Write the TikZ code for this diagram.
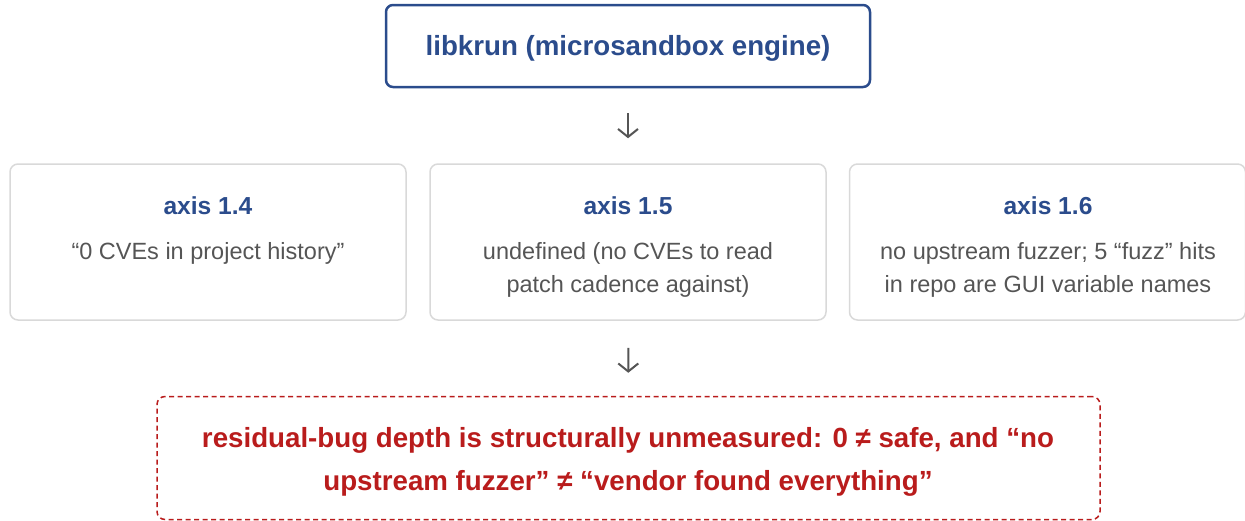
\documentclass[tikz,border=0pt]{standalone}
\usepackage{fontspec}
\setmainfont{Liberation Sans}
\usetikzlibrary{arrows.meta}
\definecolor{axisblue}{HTML}{2B4C8C}
\definecolor{verdictred}{HTML}{B91C1C}
\definecolor{bodygrey}{HTML}{555555}
\definecolor{boxgrey}{HTML}{D9D9D9}

\begin{document}
\begin{tikzpicture}[x=1pt, y=-1pt, >={Straight Barb[length=8pt,width=20pt]},
  engine/.style={draw=axisblue, line width=2.5pt, rounded corners=7pt, minimum width=484pt, minimum height=82pt, inner sep=0pt},
  enginetext/.style={anchor=base, inner sep=0pt, text=axisblue, font=\fontsize{27.7}{34}\selectfont\bfseries},
  axisbox/.style={draw=boxgrey, line width=1.5pt, rounded corners=8pt, minimum width=396pt, minimum height=156pt, inner sep=0pt},
  verdict/.style={draw=verdictred, line width=1.5pt, dash pattern=on 5pt off 3.5pt, rounded corners=8pt, minimum width=943pt, minimum height=123pt, inner sep=0pt},
  title/.style={anchor=base, inner sep=0pt, text=axisblue, font=\fontsize{24.6}{30}\selectfont\bfseries},
  body/.style={anchor=base, inner sep=0pt, text=bodygrey, align=center, font=\fontsize{23.5}{33.3}\selectfont},
  verdicttext/.style={anchor=base, inner sep=0pt, text=verdictred, align=center, font=\fontsize{27.7}{43}\selectfont\bfseries},
  flow/.style={->, draw=bodygrey, line width=2pt}]
\useasboundingbox (0,0) rectangle (1245,520);
% Engine
\node[engine] (engine) at (628,46) {};
\node[enginetext] (et) at (628,55) {libkrun (microsandbox engine)};
% Axes
\node[axisbox] (ax14) at (208,242) {};
\node[axisbox] (ax15) at (628,242) {};
\node[axisbox] (ax16) at (1047.5,242) {};
\node[title] (t14) at (208,214) {axis 1.4};
\node[body] (b14) at (208,259) {“0 CVEs in project history”};
\node[title] (t15) at (628,214) {axis 1.5};
\node[body] (b15) at (628,292.3) {undefined (no CVEs to read\\patch cadence against)};
\node[title] (t16) at (1048,214) {axis 1.6};
\node[body] (b16) at (1048,292.3) {no upstream fuzzer; 5 “fuzz” hits\\in repo are GUI variable names};
% Verdict
\node[verdict] (verdict) at (628.5,458) {};
\node[verdicttext] (vt) at (628,490) {residual-bug depth is structurally unmeasured: 0 ≠ safe, and “no\\upstream fuzzer” ≠ “vendor found everything”};
% Arrows
\draw[flow, shorten <=25pt, shorten >=25pt] (engine) -- (ax15);
\draw[flow, shorten <=27pt, shorten >=23pt] (ax15) -- (verdict);
\end{tikzpicture}
\end{document}
